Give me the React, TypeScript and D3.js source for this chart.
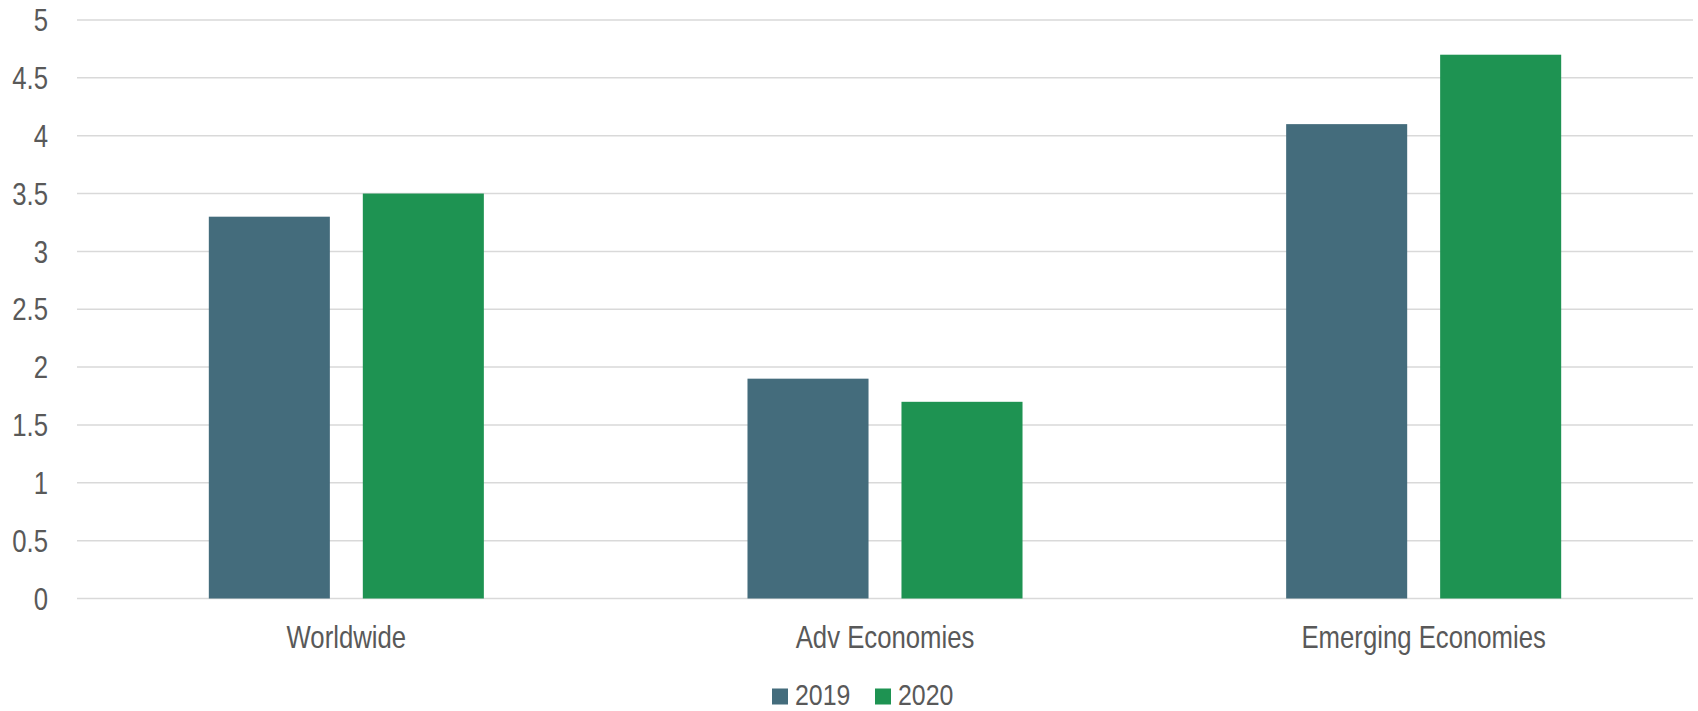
import React from "react";
import * as d3 from "d3";

const categories = ["Worldwide", "Adv Economies", "Emerging Economies"];
const seriesNames = ["2019", "2020"];
const values2019 = [3.3, 1.9, 4.1];
const values2020 = [3.5, 1.7, 4.7];
const yTicks = [0, 0.5, 1, 1.5, 2, 2.5, 3, 3.5, 4, 4.5, 5];
const colors = ["#446C7C", "#1E9352"];

const W = 1698;
const H = 711;
const FONT = "'Liberation Sans', Arial, sans-serif";
const TEXT = "#595959";
const FS = 31;
const SX = 0.83;

function NarrowText(props: {
  x: number;
  y: number;
  anchor?: "start" | "middle" | "end";
  dy?: string;
  size?: number;
  children: React.ReactNode;
}) {
  return (
    <text
      transform={`translate(${props.x},${props.y}) scale(${SX},1)`}
      textAnchor={props.anchor || "start"}
      dy={props.dy}
      fontSize={props.size || FS}
      fill={TEXT}
    >
      {props.children}
    </text>
  );
}

export default function App() {
  const x = d3.scaleBand<string>().domain(categories).range([77, 1693]).paddingInner(0).paddingOuter(0);
  const xs = d3
    .scaleBand<string>()
    .domain(seriesNames)
    .range([0, x.bandwidth()])
    .paddingInner(0.214)
    .paddingOuter(0.856);
  const y = d3.scaleLinear().domain([0, 5]).range([598.5, 20]);
  const series = [values2019, values2020];

  const legendX = [772, 875];

  return (
    <div style={{ position: "fixed", left: 0, top: 0, background: "#fff" }}>
      <svg width={W} height={H} style={{ display: "block" }} fontFamily={FONT}>
        <rect x={0} y={0} width={W} height={H} fill="#fff" />
        {yTicks.map((t) => (
          <g key={t}>
            <line x1={77} x2={1693} y1={y(t)} y2={y(t)} stroke="#d9d9d9" strokeWidth={1.5} />
            <NarrowText x={48} y={y(t)} anchor="end" dy="0.36em">
              {String(t)}
            </NarrowText>
          </g>
        ))}
        {categories.map((c, i) => (
          <g key={c}>
            {series.map((vals, s) => (
              <rect
                key={s}
                x={(x(c) as number) + (xs(seriesNames[s]) as number)}
                y={y(vals[i])}
                width={xs.bandwidth()}
                height={y(0) - y(vals[i])}
                fill={colors[s]}
              />
            ))}
            <NarrowText x={(x(c) as number) + x.bandwidth() / 2} y={648} anchor="middle">
              {c}
            </NarrowText>
          </g>
        ))}
        {seriesNames.map((s, i) => (
          <g key={s}>
            <rect x={legendX[i]} y={688.5} width={16} height={16} fill={colors[i]} />
            <NarrowText x={legendX[i] + 23} y={704.5} size={30}>
              {s}
            </NarrowText>
          </g>
        ))}
      </svg>
    </div>
  );
}
